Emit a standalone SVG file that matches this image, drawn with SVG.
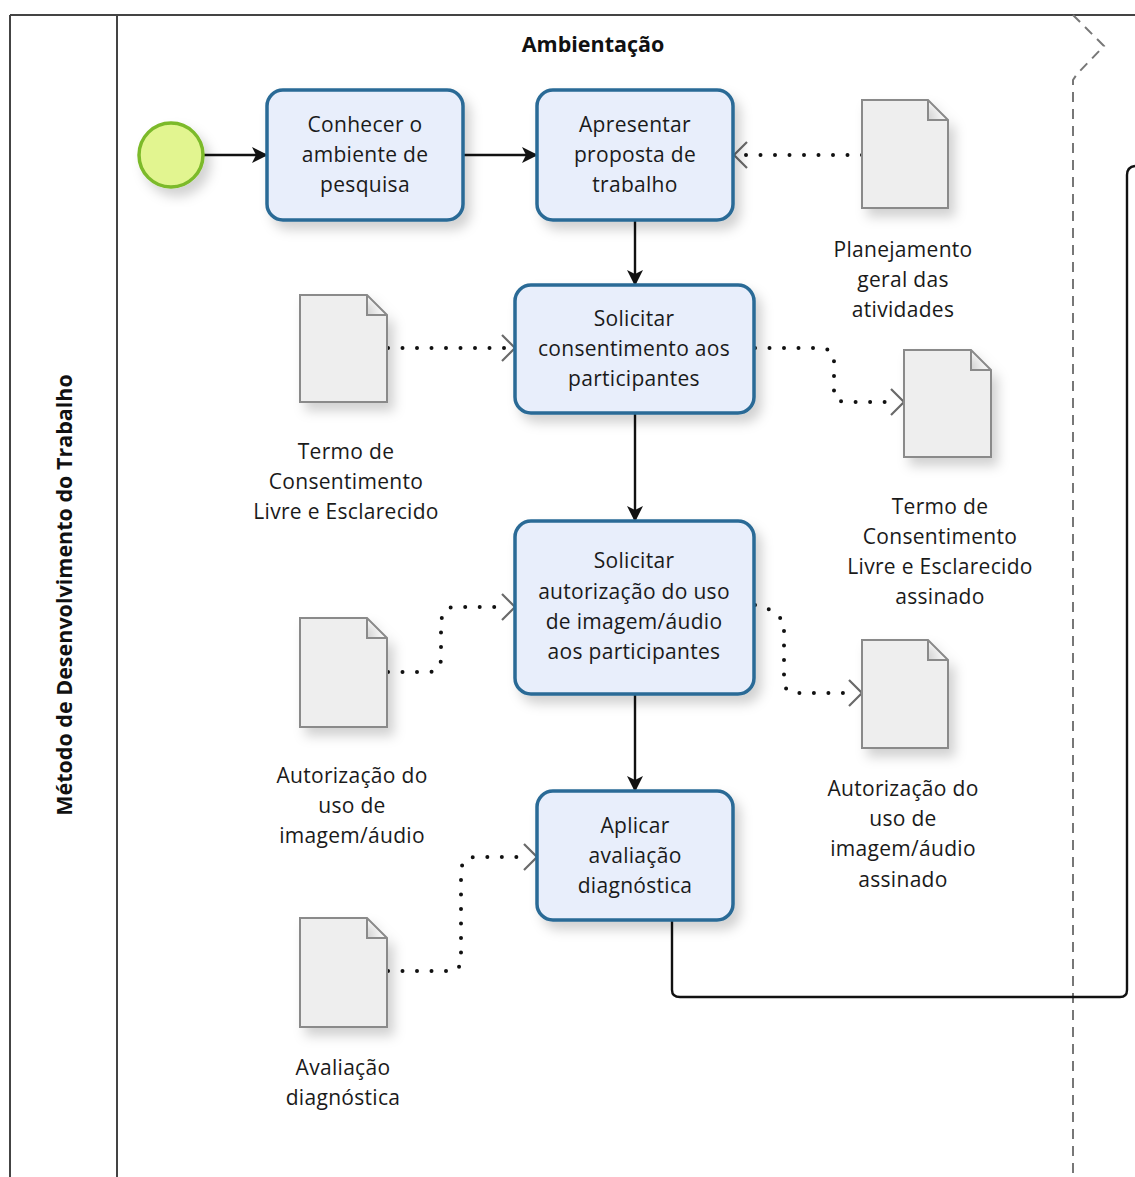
<svg xmlns="http://www.w3.org/2000/svg" width="1135" height="1177" viewBox="0 0 1135 1177">
<defs>
  <style>
    .lbl{font-family:"Open Sans","Noto Sans","DejaVu Sans",sans-serif;font-size:21px;letter-spacing:0.3px;fill:#1a1a1a;text-anchor:middle}
    .title{font-family:"Open Sans","Noto Sans","DejaVu Sans",sans-serif;font-size:21.5px;font-weight:bold;fill:#111;text-anchor:middle}
    .task{fill:#e8eefb;stroke:#2a6b96;stroke-width:3.5}
    .doc{fill:#eeeeee;stroke:#8a8a8a;stroke-width:2}
    .flow{fill:none;stroke:#111;stroke-width:2.4}
    .assoc{fill:none;stroke:#111;stroke-width:4;stroke-linecap:round;stroke-dasharray:0 14.5}
    .chev{fill:none;stroke:#6a6a6a;stroke-width:2.2}
  </style>
  <filter id="sh" x="-20%" y="-20%" width="150%" height="150%">
    <feDropShadow dx="6" dy="8" stdDeviation="6" flood-color="#000" flood-opacity="0.18"/>
  </filter>
  <marker id="arr" viewBox="0 0 16 16" refX="15" refY="8" markerWidth="16" markerHeight="16" markerUnits="userSpaceOnUse" orient="auto">
    <path d="M0,0 L16,8 L0,16 L4,8 Z" fill="#111"/>
  </marker>
</defs>

<g id="pool">
  <line x1="10" y1="15" x2="1135" y2="15" stroke="#444" stroke-width="2"/>
  <line x1="10" y1="15" x2="10" y2="1177" stroke="#444" stroke-width="2"/>
  <line x1="117" y1="15" x2="117" y2="1177" stroke="#444" stroke-width="2"/>
  <text class="title" transform="translate(72,595) rotate(-90)">Método de Desenvolvimento do Trabalho</text>
  <text class="title" x="593" y="52">Ambientação</text>
  <path d="M1073,15 L1104,46 L1077,74 L1073,80 L1073,1177" fill="none" stroke="#777" stroke-width="2" stroke-dasharray="10 7"/>
</g>

<g id="connectors">
  <line class="flow" x1="204" y1="155" x2="267" y2="155" marker-end="url(#arr)"/>
  <line class="flow" x1="463" y1="155" x2="537" y2="155" marker-end="url(#arr)"/>
  <line class="flow" x1="635" y1="220" x2="635" y2="285" marker-end="url(#arr)"/>
  <line class="flow" x1="635" y1="413" x2="635" y2="521" marker-end="url(#arr)"/>
  <line class="flow" x1="635" y1="694" x2="635" y2="791" marker-end="url(#arr)"/>
  <path class="flow" d="M672,920 V990 Q672,997 680,997 H1120 Q1127,997 1127,990 V175 Q1127,167 1135,166"/>

  <path class="assoc" d="M862,155 H740"/>
  <path class="chev" d="M747,142 L734,155 L747,168"/>

  <path class="assoc" d="M388,348 H508"/>
  <path class="chev" d="M502,335 L515,348 L502,361"/>

  <path class="assoc" d="M755,348 H823 Q834,350 834,362 V395 Q836,402 848,402 H898"/>
  <path class="chev" d="M891,389 L904,402 L891,415"/>

  <path class="assoc" d="M388,672 H430 Q441,670 441,658 V622 Q443,607 455,607 H505"/>
  <path class="chev" d="M502,594 L515,607 L502,620"/>

  <path class="assoc" d="M755,605 Q770,606 784,622 V684 Q786,693 798,693 H855"/>
  <path class="chev" d="M849,680 L862,693 L849,706"/>

  <path class="assoc" d="M388,971 H452 Q461,970 461,958 V870 Q463,857 475,857 H528"/>
  <path class="chev" d="M524,844 L537,857 L524,870"/>
</g>

<g id="start">
  <circle cx="171" cy="155" r="32" fill="#e2f590" stroke="#7cba2a" stroke-width="3.5" filter="url(#sh)"/>
</g>

<g id="t1">
  <rect class="task" x="267" y="90" width="196" height="130" rx="16" filter="url(#sh)"/>
  <text class="lbl" x="365" y="132">Conhecer o</text>
  <text class="lbl" x="365" y="162">ambiente de</text>
  <text class="lbl" x="365" y="192">pesquisa</text>
</g>
<g id="t2">
  <rect class="task" x="537" y="90" width="196" height="130" rx="16" filter="url(#sh)"/>
  <text class="lbl" x="635" y="132">Apresentar</text>
  <text class="lbl" x="635" y="162">proposta de</text>
  <text class="lbl" x="635" y="192">trabalho</text>
</g>
<g id="t3">
  <rect class="task" x="515" y="285" width="239" height="128" rx="16" filter="url(#sh)"/>
  <text class="lbl" x="634" y="326">Solicitar</text>
  <text class="lbl" x="634" y="356">consentimento aos</text>
  <text class="lbl" x="634" y="386">participantes</text>
</g>
<g id="t4">
  <rect class="task" x="515" y="521" width="239" height="173" rx="16" filter="url(#sh)"/>
  <text class="lbl" x="634" y="568">Solicitar</text>
  <text class="lbl" x="634" y="599">autorização do uso</text>
  <text class="lbl" x="634" y="629">de imagem/áudio</text>
  <text class="lbl" x="634" y="659">aos participantes</text>
</g>
<g id="t5">
  <rect class="task" x="537" y="791" width="196" height="129" rx="16" filter="url(#sh)"/>
  <text class="lbl" x="635" y="833">Aplicar</text>
  <text class="lbl" x="635" y="863">avaliação</text>
  <text class="lbl" x="635" y="893">diagnóstica</text>
</g>

<g id="d1">
  <path class="doc" d="M862,100 H928 L948,120 V208 H862 Z M928,100 V120 H948" filter="url(#sh)"/>
  <text class="lbl" x="903" y="257">Planejamento</text>
  <text class="lbl" x="903" y="287">geral das</text>
  <text class="lbl" x="903" y="317">atividades</text>
</g>
<g id="d2">
  <path class="doc" d="M300,295 H367 L387,315 V402 H300 Z M367,295 V315 H387" filter="url(#sh)"/>
  <text class="lbl" x="346" y="459">Termo de</text>
  <text class="lbl" x="346" y="489">Consentimento</text>
  <text class="lbl" x="346" y="519">Livre e Esclarecido</text>
</g>
<g id="d3">
  <path class="doc" d="M904,350 H971 L991,370 V457 H904 Z M971,350 V370 H991" filter="url(#sh)"/>
  <text class="lbl" x="940" y="514">Termo de</text>
  <text class="lbl" x="940" y="544">Consentimento</text>
  <text class="lbl" x="940" y="574">Livre e Esclarecido</text>
  <text class="lbl" x="940" y="604">assinado</text>
</g>
<g id="d4">
  <path class="doc" d="M300,618 H367 L387,638 V727 H300 Z M367,618 V638 H387" filter="url(#sh)"/>
  <text class="lbl" x="352" y="783">Autorização do</text>
  <text class="lbl" x="352" y="813">uso de</text>
  <text class="lbl" x="352" y="843">imagem/áudio</text>
</g>
<g id="d5">
  <path class="doc" d="M862,640 H928 L948,660 V748 H862 Z M928,640 V660 H948" filter="url(#sh)"/>
  <text class="lbl" x="903" y="796">Autorização do</text>
  <text class="lbl" x="903" y="826">uso de</text>
  <text class="lbl" x="903" y="856">imagem/áudio</text>
  <text class="lbl" x="903" y="887">assinado</text>
</g>
<g id="d6">
  <path class="doc" d="M300,918 H367 L387,938 V1027 H300 Z M367,918 V938 H387" filter="url(#sh)"/>
  <text class="lbl" x="343" y="1075">Avaliação</text>
  <text class="lbl" x="343" y="1105">diagnóstica</text>
</g>
</svg>
